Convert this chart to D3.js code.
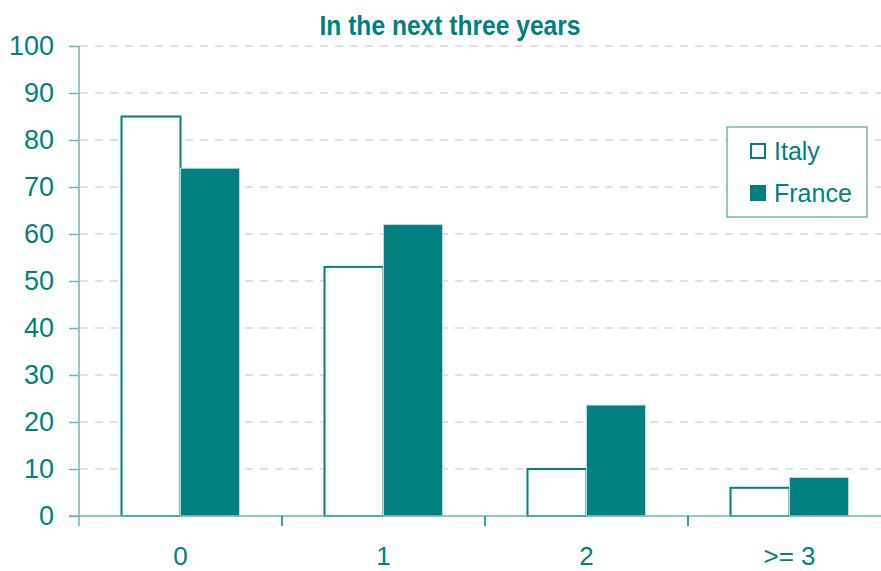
<!DOCTYPE html>
<html lang="en">
<head>
    <meta charset="UTF-8">
    <title>In the next three years</title>
    <script src="https://cdn.jsdelivr.net/npm/d3@7"></script>
    <style>
        body { margin: 0; background: #fff; }
        text { font-family: "Liberation Sans", Arial, sans-serif; fill: #008080; }
        .grid line { stroke: #d6d6d6; stroke-width: 1.5; stroke-dasharray: 8,7; }
    </style>
</head>
<body>

<svg width="881" height="571"></svg>

<script>

    var categories = ["0", "1", "2", ">= 3"];
    var italy = [85, 53, 10, 6];
    var france = [74, 62, 23.6, 8.2];
    var yTicks = [0, 10, 20, 30, 40, 50, 60, 70, 80, 90, 100];

    var teal = "#008080";
    var axisTeal = "#6fb5b4";

    var svg = d3.select("svg");

    var x = d3.scaleBand()
            .domain(categories)
            .range([79, 891]);

    var y = d3.scaleLinear()
            .domain([0, 100])
            .range([516, 46]);

    var barW = 59;

    // gridlines
    svg.append("g")
            .attr("class", "grid")
            .selectAll("line")
            .data(yTicks.filter(function(d) { return d > 0; }))
            .enter()
            .append("line")
            .attr("x1", 80)
            .attr("x2", 881)
            .attr("y1", function(d) { return y(d); })
            .attr("y2", function(d) { return y(d); });

    // Italy bars
    svg.selectAll("rect.italy")
            .data(italy)
            .enter()
            .append("rect")
            .attr("class", "italy")
            .attr("x", function(d, i) { return x(categories[i]) + x.bandwidth() / 2 - barW; })
            .attr("y", function(d) { return y(d); })
            .attr("width", barW)
            .attr("height", function(d) { return y(0) - y(d); })
            .attr("fill", "#fff")
            .attr("stroke", teal)
            .attr("stroke-width", 2);

    // France bars
    svg.selectAll("rect.france")
            .data(france)
            .enter()
            .append("rect")
            .attr("class", "france")
            .attr("x", function(d, i) { return x(categories[i]) + x.bandwidth() / 2; })
            .attr("y", function(d) { return y(d); })
            .attr("width", barW)
            .attr("height", function(d) { return y(0) - y(d); })
            .attr("fill", teal)
            .attr("stroke", "#b9dcdc")
            .attr("stroke-width", 1);

    // y axis
    var yAxis = svg.append("g")
            .attr("transform", "translate(79,0)")
            .call(d3.axisLeft(y).tickValues(yTicks).tickSize(10).tickPadding(15));
    yAxis.select(".domain").attr("stroke", axisTeal).attr("stroke-width", 1.5)
            .attr("d", "M0,46V526");
    yAxis.selectAll(".tick line").attr("stroke", axisTeal).attr("stroke-width", 1.5);
    yAxis.selectAll(".tick text")
            .attr("font-size", 27)
            .attr("fill", teal)
            .style("font-family", "'Liberation Sans', Arial, sans-serif");

    // x axis baseline
    svg.append("line")
            .attr("x1", 69)
            .attr("x2", 881)
            .attr("y1", y(0))
            .attr("y2", y(0))
            .attr("stroke", axisTeal)
            .attr("stroke-width", 1.5);

    // category boundary ticks
    svg.selectAll("line.xtick")
            .data(categories.slice(1))
            .enter()
            .append("line")
            .attr("class", "xtick")
            .attr("x1", function(d) { return x(d); })
            .attr("x2", function(d) { return x(d); })
            .attr("y1", y(0))
            .attr("y2", y(0) + 10)
            .attr("stroke", teal)
            .attr("stroke-width", 1.5);

    // category labels
    svg.selectAll("text.xlabel")
            .data(categories)
            .enter()
            .append("text")
            .attr("class", "xlabel")
            .attr("x", function(d) { return x(d) + x.bandwidth() / 2; })
            .attr("y", 565)
            .attr("text-anchor", "middle")
            .attr("font-size", 26)
            .text(function(d) { return d; });

    // title
    svg.append("text")
            .attr("x", 450)
            .attr("y", 35)
            .attr("text-anchor", "middle")
            .attr("font-size", 28)
            .attr("font-weight", "bold")
            .attr("textLength", 261)
            .attr("lengthAdjust", "spacingAndGlyphs")
            .text("In the next three years");

    // legend
    var legend = svg.append("g");
    legend.append("rect")
            .attr("x", 727)
            .attr("y", 127)
            .attr("width", 140)
            .attr("height", 90)
            .attr("fill", "#fff")
            .attr("stroke", axisTeal)
            .attr("stroke-width", 1.5);

    var legendItems = [
        { name: "Italy", fill: "#fff" },
        { name: "France", fill: teal }
    ];

    var li = legend.selectAll("g.item")
            .data(legendItems)
            .enter()
            .append("g")
            .attr("class", "item")
            .attr("transform", function(d, i) { return "translate(751," + (144 + i * 42) + ")"; });

    li.append("rect")
            .attr("width", 14)
            .attr("height", 14)
            .attr("fill", function(d) { return d.fill; })
            .attr("stroke", teal)
            .attr("stroke-width", 2);

    li.append("text")
            .attr("x", 23)
            .attr("y", 16)
            .attr("font-size", 25)
            .text(function(d) { return d.name; });

</script>

</body>
</html>
